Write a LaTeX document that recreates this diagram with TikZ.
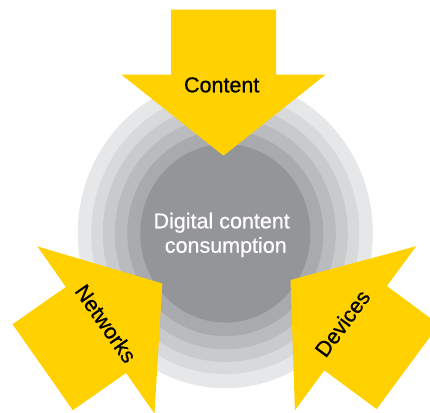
\documentclass[tikz,border=0pt]{standalone}
\usepackage{fontspec}
\setmainfont{Liberation Sans}
\newfontfamily\lblfont[FakeBold=0.7]{Liberation Sans}
\definecolor{arrowyellow}{RGB}{255,209,0}
\definecolor{ringA}{RGB}{230,231,232}
\definecolor{ringB}{RGB}{216,217,219}
\definecolor{ringC}{RGB}{201,202,204}
\definecolor{ringD}{RGB}{186,187,190}
\definecolor{ringE}{RGB}{169,170,173}
\definecolor{ringF}{RGB}{147,149,152}
\tikzset{
  bigarrow/.style={fill=arrowyellow, draw=none},
  lbl/.style={inner sep=0pt, font=\lblfont\fontsize{21.5}{24.4}\selectfont},
}
\newcommand{\arrowpath}{(0,0) -- (-81,102) -- (-81,52.5) -- (-146,52.5) -- (-146,-52.5) -- (-81,-52.5) -- (-81,-102) -- cycle}
\begin{document}
\begin{tikzpicture}[x=1pt, y=-1pt]
\useasboundingbox (0,0) rectangle (430,412);
% concentric rings
\coordinate (ctr) at (225.3,233.3);
\foreach \r/\c in {147.5/ringA, 134/ringB, 122.5/ringC, 110.5/ringD, 98/ringE, 85/ringF}{
  \fill[\c] (ctr) ellipse [x radius=\r pt, y radius=1.05*\r pt];
}
% arrows
\begin{scope}
\clip (0,0) rectangle (430,412);
\begin{scope}[shift={(223.5,155.7)}, rotate=-90]
  \fill[bigarrow] \arrowpath;
\end{scope}
\begin{scope}[shift={(162.3,283.5)}, rotate=35]
  \fill[bigarrow] \arrowpath;
\end{scope}
\begin{scope}[shift={(290.5,280)}, rotate=143.5]
  \fill[bigarrow] \arrowpath;
\end{scope}
\end{scope}
% labels
\node[lbl, anchor=base, text=black] (content) at (221.7,92.3) {Content};
\node[lbl, anchor=base, text=white] (dig1) at (221.7,228.3) {Digital content};
\node[lbl, anchor=base, text=white] (dig2) at (225.8,252.7) {consumption};
\node[lbl, rotate=-55, text=black] (networks) at (106,323.5) {Networks};
\node[lbl, rotate=53.5, text=black] (devices) at (342.3,323.3) {Devices};
\end{tikzpicture}
\end{document}
